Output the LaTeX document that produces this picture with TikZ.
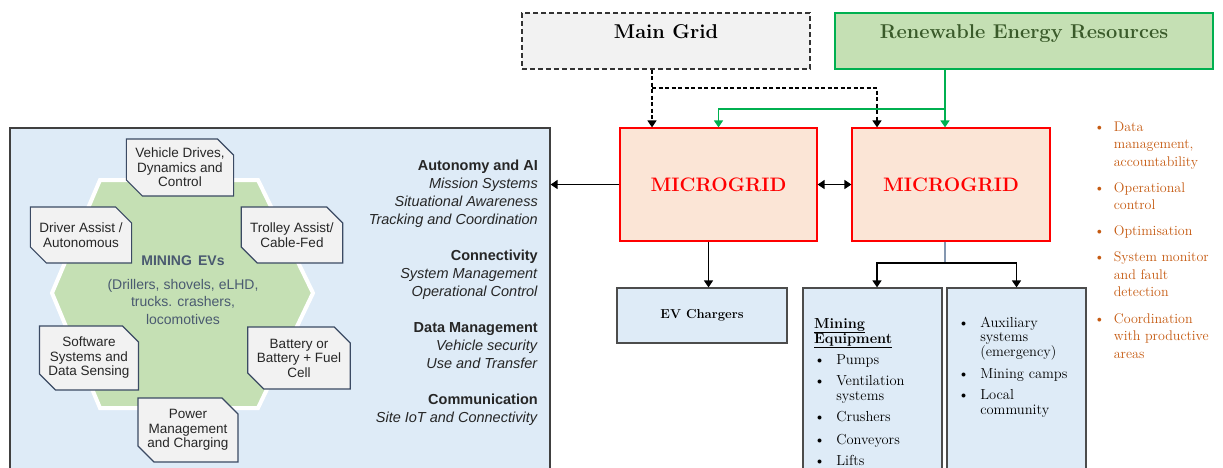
\documentclass[tikz,border=0pt]{standalone}
\usepackage{fontspec}
\setsansfont{Liberation Sans}
\usetikzlibrary{arrows.meta,shapes.misc}

\definecolor{panelblue}{HTML}{DEEBF7}
\definecolor{chipgray}{HTML}{F2F2F2}
\definecolor{chipedge}{HTML}{3B4A63}
\definecolor{hexgreen}{HTML}{C5E0B4}
\definecolor{evslate}{HTML}{4A5A70}
\definecolor{renewedge}{HTML}{00B050}
\definecolor{renewtext}{HTML}{3A5A2A}
\definecolor{mgfill}{HTML}{FBE5D6}
\definecolor{mgred}{HTML}{FF0000}
\definecolor{taskorange}{HTML}{C55A11}
\definecolor{stemgray}{HTML}{8497B0}

\begin{document}
\begin{tikzpicture}[
  x=1pt, y=-1pt,
  box/.style={draw, rectangle, inner sep=2pt, align=center, line width=1.2pt},
  panel/.style={box, fill=panelblue, draw=black!75},
  chip/.style={draw=chipedge, fill=chipgray, line width=1.2pt, chamfered rectangle,
               chamfered rectangle corners={north east,south west},
               chamfered rectangle xsep=8pt, chamfered rectangle ysep=8pt,
               inner sep=1pt, align=center, text=black!85,
               font=\sffamily\fontsize{13.5}{14.5}\selectfont},
  gridbox/.style={box, dash pattern=on 5pt off 3pt, fill=chipgray, draw=black!80, text depth=18pt,
                  font=\bfseries\fontsize{20}{24}\selectfont},
  renewbox/.style={box, fill=hexgreen, draw=renewedge, text=renewtext, text depth=18pt,
                   font=\bfseries\fontsize{20}{24}\selectfont},
  mgbox/.style={box, fill=mgfill, draw=mgred, text=mgred, minimum width=197pt,
                minimum height=113pt, font=\bfseries\fontsize{19.5}{22}\selectfont},
  loadbox/.style={box, fill=panelblue, draw=black!70},
  listtext/.style={inner sep=0pt, font=\fontsize{14.5}{14.5}\selectfont},
  arrow/.style={-{Triangle[width=9pt,length=7pt]}, line width=1.3pt},
  twoway/.style={{Triangle[width=9pt,length=7pt]}-{Triangle[width=9pt,length=7pt]}, line width=1.3pt},
  gridarrow/.style={arrow, dash pattern=on 4pt off 2.5pt},
  renewarrow/.style={arrow, draw=renewedge}
]
\useasboundingbox (0,0) rectangle (1223,467);
\clip (0,0) rectangle (1223,467);

% Mining EV panel
\node[panel, minimum width=540pt, minimum height=350pt] (evpanel) at (280,303) {};
\draw[fill=hexgreen, draw=white, line width=4pt]
  (52,293) -- (100,180) -- (258,180) -- (313,293) -- (258,408) -- (100,408) -- cycle;
\node[align=center, text=evslate, font=\sffamily\fontsize{14}{17.5}\selectfont] (evcore) at (183,290)
  {\textbf{MINING\, EVs}\\[6pt](Drillers, shovels, eLHD,\\trucks. crashers,\\locomotives};

\node[chip, minimum width=106pt, minimum height=55pt] (drives) at (180,167.5) {Vehicle Drives,\\Dynamics and\\Control};
\node[chip, minimum width=98pt, minimum height=56pt] (driver) at (81,235) {Driver Assist /\\Autonomous};
\node[chip, minimum width=100pt, minimum height=56pt] (trolley) at (292,235) {Trolley Assist/\\Cable-Fed};
\node[chip, minimum width=98pt, minimum height=64pt] (software) at (89,358) {Software\\Systems and\\Data Sensing};
\node[chip, minimum width=98pt, minimum height=62pt] (battery) at (299,358) {Battery or\\Battery + Fuel\\Cell};
\node[chip, minimum width=100pt, minimum height=64pt] (power) at (188,430) {Power\\Management\\and Charging};

\node[inner sep=0pt, anchor=base east, text=black!85, font=\sffamily\fontsize{14.5}{18}\selectfont] (evtech) at (538,170)
  {\begin{tabular}[t]{@{}r@{}}
   \textbf{Autonomy and AI}\\ \textit{Mission Systems}\\ \textit{Situational Awareness}\\ \textit{Tracking and Coordination}\\[18pt]
   \textbf{Connectivity}\\ \textit{System Management}\\ \textit{Operational Control}\\[18pt]
   \textbf{Data Management}\\ \textit{Vehicle security}\\ \textit{Use and Transfer}\\[18pt]
   \textbf{Communication}\\ \textit{Site IoT and Connectivity}
   \end{tabular}};

% Sources
\node[gridbox, minimum width=288pt, minimum height=56pt] (maingrid) at (666,41) {Main Grid};
\node[renewbox, minimum width=378pt, minimum height=56pt] (renew) at (1024,41) {Renewable Energy Resources};

% Microgrids
\node[mgbox] (mg1) at (718.5,184.5) {MICROGRID};
\node[mgbox, minimum width=198pt] (mg2) at (951,184.5) {MICROGRID};

% Loads
\node[loadbox, minimum width=170pt, minimum height=55pt, font=\bfseries\fontsize{13}{15}\selectfont] (evchg) at (702,315.5) {EV Chargers};
\node[loadbox, minimum width=139pt, minimum height=200pt] (mineq) at (872.5,388) {};
\node[loadbox, minimum width=139pt, minimum height=200pt] (mineaux) at (1016.5,388) {};

\node[listtext, anchor=base west] (mineqlist) at (814,328)
  {\begin{tabular}[t]{@{}l@{\hspace{11pt}}l@{}}
   \multicolumn{2}{@{}l@{}}{\underline{\textbf{Mining}}}\\
   \multicolumn{2}{@{}l@{}}{\underline{\textbf{Equipment}}}\\[6.5pt]
   \textbullet & Pumps\\[7pt]
   \textbullet & Ventilation\\
               & systems\\[7pt]
   \textbullet & Crushers\\[8pt]
   \textbullet & Conveyors\\[7pt]
   \textbullet & Lifts
   \end{tabular}};
\node[listtext, anchor=base west] (auxlist) at (958,327)
  {\begin{tabular}[t]{@{}l@{\hspace{11pt}}l@{}}
   \textbullet & Auxiliary\\
               & systems\\
               & (emergency)\\[7pt]
   \textbullet & Mining camps\\[7pt]
   \textbullet & Local\\
               & community
   \end{tabular}};

% Control tasks
\node[inner sep=0pt, anchor=base west, text=taskorange, font=\fontsize{14}{17.5}\selectfont] (tasks) at (1094,131)
  {\begin{tabular}[t]{@{}l@{\hspace{9pt}}l@{}}
   \textbullet & Data\\ & management,\\ & accountability\\[8.5pt]
   \textbullet & Operational\\ & control\\[8.5pt]
   \textbullet & Optimisation\\[8.5pt]
   \textbullet & System monitor\\ & and fault\\ & detection\\[9pt]
   \textbullet & Coordination\\ & with productive\\ & areas
   \end{tabular}};

% Arrows
\coordinate (gridtap) at (652,88);
\coordinate (renewtap) at (945,109);
\coordinate (loadsplit) at (945,263);

\draw[gridarrow] (maingrid.south -| gridtap) -- (mg1.north -| gridtap);
\draw[gridarrow] (gridtap) -| ([xshift=-74pt]mg2.north);
\draw[renewarrow] (renew.south -| renewtap) -- ([xshift=-6pt]mg2.north);
\draw[renewarrow] (renewtap) -| (mg1.north);

\draw[arrow] (mg1.west) -- (mg1.west -| evpanel.east);
\draw[twoway] (mg1) -- (mg2);
\draw[arrow] ([xshift=-10pt]mg1.south) -- ([xshift=-10pt]mg1.south |- evchg.north);
\draw[stemgray, line width=1.3pt] ([xshift=-6pt]mg2.south) -- (loadsplit);
\draw[arrow] (loadsplit) -| ([xshift=4.5pt]mineq.north);
\draw[arrow] (loadsplit) -| (mineaux.north);

\end{tikzpicture}
\end{document}
